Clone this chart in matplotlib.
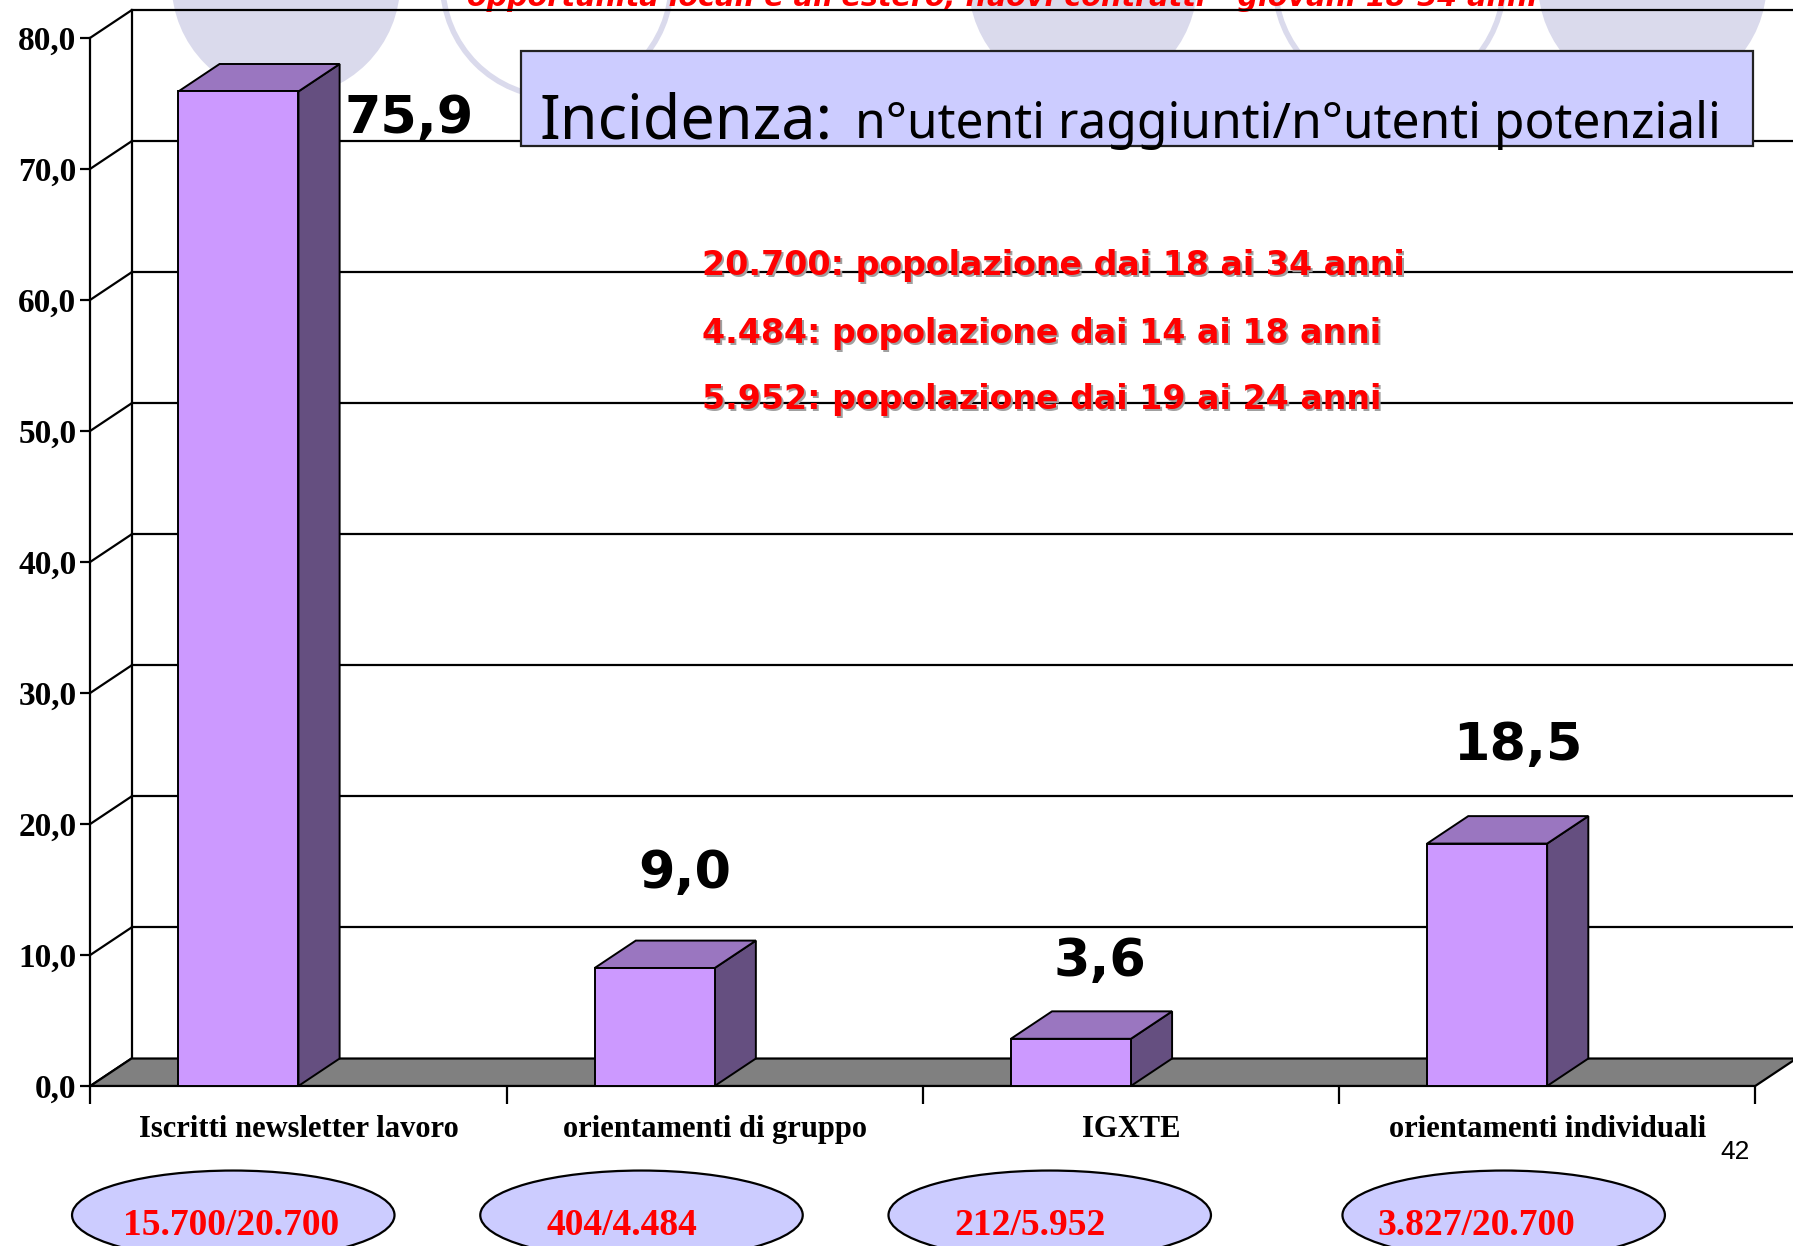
import numpy as np
import matplotlib
matplotlib.use("Agg")
import matplotlib.pyplot as plt
from matplotlib.patches import Rectangle, Polygon, Ellipse

# ---------------- data ----------------
CATEGORIES = ["Iscritti newsletter lavoro", "orientamenti di gruppo", "IGXTE",
              "orientamenti individuali"]
VALUES = [75.9, 9.0, 3.6, 18.5]
VALUE_LABELS = ["75,9", "9,0", "3,6", "18,5"]
RATIOS = ["15.700/20.700", "404/4.484", "212/5.952", "3.827/20.700"]
Y_TICKS = [0, 10, 20, 30, 40, 50, 60, 70, 80]
Y_TICK_LABELS = ["0,0", "10,0", "20,0", "30,0", "40,0", "50,0", "60,0", "70,0", "80,0"]
POPULATION_NOTES = ["20.700: popolazione dai 18 ai 34 anni",
                    "4.484: popolazione dai 14 ai 18 anni",
                    "5.952: popolazione dai 19 ai 24 anni"]
BOX_TITLE = "Incidenza:"
BOX_SUBTITLE = "n°utenti raggiunti/n°utenti potenziali"
TOP_SUBTITLE = "opportunità locali e all'estero, nuovi contratti - giovani 18-34 anni"
PAGE_NUMBER = "42"

# ---------------- layout helpers ----------------
W, H = 1793, 1246
RW, RH = 1568, 1090          # layout reference frame
S = W / RW

def fx(x):
    return x / RW

def fy(y):
    return 1 - y / RH

FRONT = "#CC99FF"
TOP = "#9A76C0"
SIDE = "#654F80"
FLOOR = "#808080"
LAV = "#CCCCFF"
BG_CIRC = "#DADAEC"
RED = "#FF0000"

fig = plt.figure(figsize=(W / 100, H / 100), dpi=100)
fig.patch.set_facecolor("white")
renderer = fig.canvas.get_renderer()

def fit(t, target_px):
    w = t.get_window_extent(renderer).width
    t.set_fontsize(t.get_fontsize() * target_px / w)

# background decorative circles
for cx, filled in [(250, True), (487, False), (947, True), (1215, False), (1445, True)]:
    e = Ellipse((fx(cx), fy(-15)), 200 / RW, 200 / RH, transform=fig.transFigure,
                facecolor=BG_CIRC if filled else "none",
                edgecolor=BG_CIRC, lw=0 if filled else 4, zorder=-5)
    fig.add_artist(e)

# top subtitle (partly outside the slide area, as in the original)
t = fig.text(fx(408), fy(5), TOP_SUBTITLE, color=RED, fontsize=18, fontweight="bold",
             fontstyle="italic", family="DejaVu Sans", ha="left", va="baseline", zorder=-4)
fit(t, (1345 - 408) * S)

# ---------------- axes ----------------
ax = fig.add_axes([fx(79), fy(950), fx(1535) - fx(79), fy(33) - fy(950)])
ax.set_xlim(0, len(CATEGORIES))
ax.set_ylim(0, 80)
ax.patch.set_visible(False)
for s in ["top", "right", "bottom"]:
    ax.spines[s].set_visible(False)
ax.spines["left"].set_linewidth(1.6)
ax.spines["left"].set_zorder(6)

# depth offset (pixels -> data units via axes transform)
DX_PX, DY_PX = 36 * S, 24 * S
p0 = ax.transData.transform((0, 0))
d = ax.transData.inverted().transform(p0 + np.array([DX_PX, DY_PX]))
dx, dy = d[0], d[1]
n = len(CATEGORIES)

# back wall gridlines and side-wall diagonals
for v in Y_TICKS:
    if v > 0:
        ax.plot([dx, n + dx + 0.3], [v + dy, v + dy], color="black", lw=1.6,
                clip_on=False, zorder=1)
    ax.plot([0, dx], [v, v + dy], color="black", lw=1.6, clip_on=False, zorder=1)
ax.plot([dx, dx], [dy, 80 + dy], color="black", lw=1.6, clip_on=False, zorder=1)

# floor
ax.add_patch(Polygon([(0, 0), (n, 0), (n + dx, dy), (dx, dy)], closed=True,
                     facecolor=FLOOR, edgecolor="black", lw=1.6, clip_on=False, zorder=2))

# 3D bars
BAR_W = 105 / 364
for i, v in enumerate(VALUES):
    x1 = i + 0.5
    x0 = x1 - BAR_W
    ax.add_patch(Polygon([(x1, 0), (x1 + dx, dy), (x1 + dx, v + dy), (x1, v)], closed=True,
                         facecolor=SIDE, edgecolor="black", lw=1.4, clip_on=False, zorder=3))
    ax.add_patch(Polygon([(x0, v), (x1, v), (x1 + dx, v + dy), (x0 + dx, v + dy)], closed=True,
                         facecolor=TOP, edgecolor="black", lw=1.4, clip_on=False, zorder=3))
    ax.add_patch(Rectangle((x0, 0), BAR_W, v, facecolor=FRONT, edgecolor="black",
                           lw=1.4, clip_on=False, zorder=4))

# value labels
LABEL_OFFSETS = [(111, -28), (-30, 94), (-31, 77), (-29, 98)]
vl = []
for i, (v, lab) in enumerate(zip(VALUES, VALUE_LABELS)):
    a = ax.annotate(lab, xy=(i + 0.5, v), xytext=LABEL_OFFSETS[i], textcoords="offset pixels",
                    ha="center", va="center", fontsize=38, fontweight="heavy",
                    family="DejaVu Sans", color="black", annotation_clip=False, zorder=7)
    vl.append(a)
fit(vl[0], 113 * S)
for a in vl[1:]:
    a.set_fontsize(vl[0].get_fontsize())

# y axis ticks
ax.set_yticks(Y_TICKS)
ax.set_yticklabels(Y_TICK_LABELS, family="Liberation Serif", fontweight="bold", fontsize=24)
ax.tick_params(axis="y", direction="out", length=7, width=1.6, pad=3)

# x axis ticks: boundaries (major), category labels (minor)
ax.set_xticks(range(n + 1))
ax.set_xticklabels([])
ax.tick_params(axis="x", which="major", direction="out", length=13, width=1.6)
ax.set_xticks([i + 0.5 for i in range(n)], minor=True)
ax.set_xticklabels(CATEGORIES, minor=True, family="Liberation Serif", fontweight="bold",
                   fontsize=22)
ax.tick_params(axis="x", which="minor", length=0, pad=21)

# ---------------- annotations ----------------
box = Rectangle((fx(456), fy(128)), fx(1533) - fx(456), fy(45) - fy(128),
                transform=fig.transFigure, facecolor=LAV, edgecolor="#222222", lw=1.6, zorder=10)
fig.add_artist(box)
t1 = fig.text(fx(472), fy(121), BOX_TITLE, family="Noto Sans", fontsize=40,
              ha="left", va="baseline", color="black", zorder=11)
fit(t1, (728 - 472) * S)
t2 = fig.text(fx(748), fy(121), BOX_SUBTITLE, family="Noto Sans", fontsize=28,
              ha="left", va="baseline", color="black", zorder=11)
fit(t2, (1503 - 748) * S)

note_texts = []
for k, (txt, base) in enumerate(zip(POPULATION_NOTES, [241, 300, 358])):
    sh = fig.text(fx(614) + 2 / W, fy(base) - 2 / H, txt, family="DejaVu Sans",
                  fontweight="bold", fontsize=22, color="#A0A0A0", ha="left",
                  va="baseline", zorder=11)
    tt = fig.text(fx(614), fy(base), txt, family="DejaVu Sans", fontweight="bold",
                  fontsize=22, color=RED, ha="left", va="baseline", zorder=12)
    note_texts.append((sh, tt))
fit(note_texts[0][1], (1226 - 614) * S)
fs = note_texts[0][1].get_fontsize()
for sh, tt in note_texts:
    sh.set_fontsize(fs)
    tt.set_fontsize(fs)

# ratio ellipses at bottom
for cx, tx, r in zip([204, 561, 918, 1315], [202, 544, 901, 1291], RATIOS):
    e = Ellipse((fx(cx), fy(1063)), 282 / RW, 78 / RH, transform=fig.transFigure,
                facecolor=LAV, edgecolor="black", lw=1.6, zorder=10)
    fig.add_artist(e)
    fig.text(fx(tx), fy(1080), r, family="Liberation Serif", fontweight="bold",
             fontsize=27, color=RED, ha="center", va="baseline", zorder=11)

fig.text(fx(1517), fy(1014), PAGE_NUMBER, family="Liberation Sans", fontsize=19,
         ha="center", va="baseline", color="black")

fig.savefig("out.png", dpi=100)
